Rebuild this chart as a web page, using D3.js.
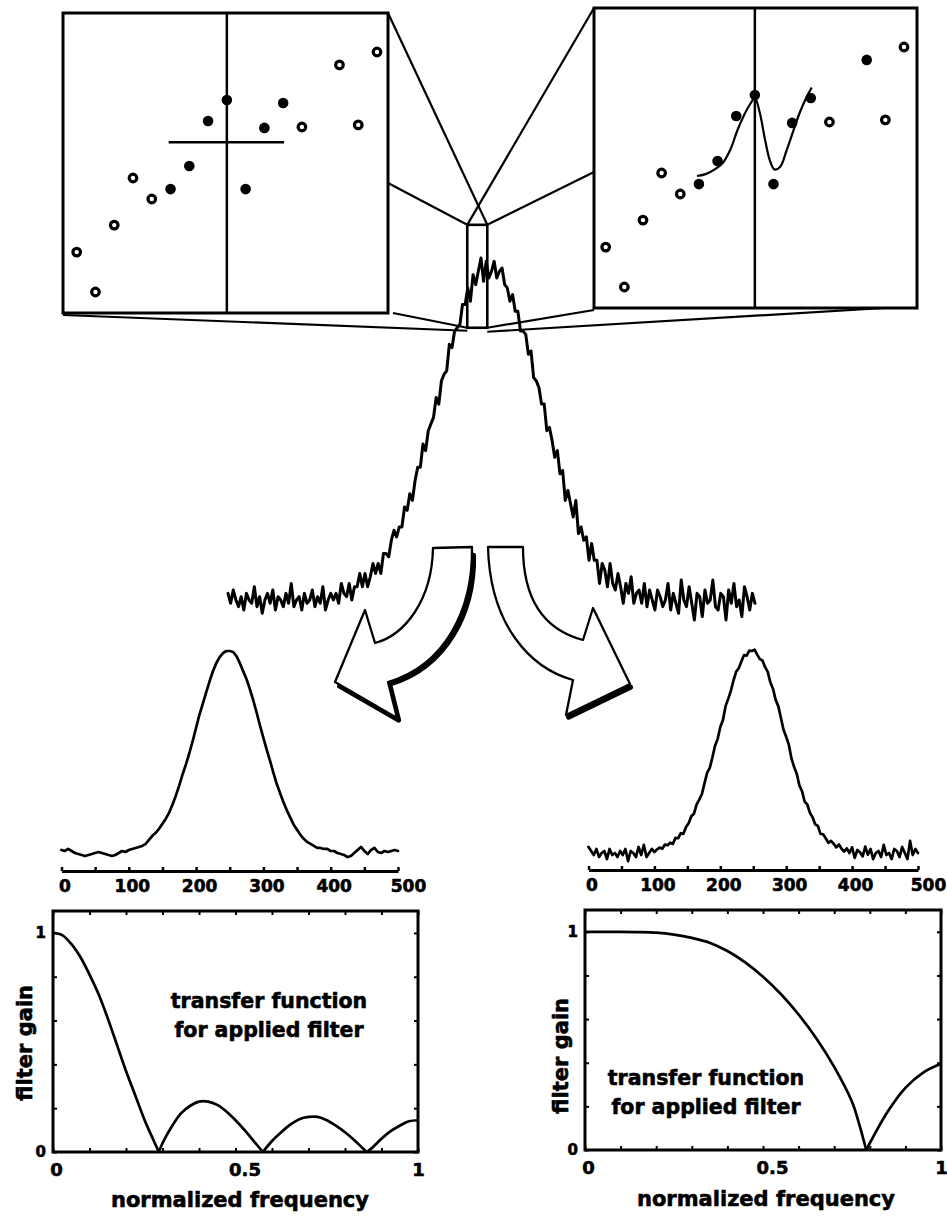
<!DOCTYPE html>
<html>
<head>
<meta charset="utf-8">
<script src="https://cdn.jsdelivr.net/npm/d3@7"></script>
<style>
  html, body { margin: 0; padding: 0; background: #fff; }
  svg { display: block; }
  text { font-family: "DejaVu Sans", "Liberation Sans", Arial, sans-serif; font-weight: 700; fill: #000; stroke: #000; stroke-width: 0.6px; stroke-linejoin: round; }
</style>
</head>
<body>
<svg id="fig" width="947" height="1220"></svg>
<script>
// ---------------- data ----------------

// 17 consecutive samples around the peak (index 13 falls outside the view)
const windowValues = [20.3, 7, 29.3, 45, 38, 41.3, 49, 64, 71, 41.3, 61.7, 70, 62, null, 82.7, 62.7, 87];
const windowIdx = [5, 6, 7, 8, 9, 10, 11];          // samples used by the 7-point filter
const centreIdx = 8;                                 // point being replaced
const filledLeft = [5, 6, 7, 8, 9, 10, 11];
const filledRight = [5, 6, 7, 8, 9, 10, 11, 14];

// local polynomial fit through the 7-point window
const fitIdx = [4.9, 5.4, 5.95, 6.3, 6.7, 7.05, 7.4, 7.75, 8.0, 8.25, 8.55, 8.8, 9.05, 9.35, 9.7, 10.05, 10.4, 10.75, 11.05];
const fitVal = [44, 44.7, 46.6, 48.5, 53, 59, 64, 68, 70, 65.5, 56, 49.3, 46.2, 47, 52.5, 58.8, 65, 70, 73.5];

// raw noisy signal, one value every 2.5 sample units (0..500)
const rawStep = 2.5;
const rawSignal = [
  2,-1,3,0,-2,1,-3,2,0,-1,
  4,-2,1,-4,0,2,-1,3,-3,1,
  0,-2,2,-1,5,-2,0,1,-3,2,
  -1,0,3,-2,1,-1,4,-3,0,2,
  0,2,-1,5,2,1,5,0,4,4,
  8,4,8,4,7,11,8,11,8,14,
  14,13,18,21,19,22,22,28,27,32,
  30,36,40,40,47,45,51,53,55,61,
  59,66,68,69,77,76,81,82,83,89,
  89,94,90,98,95,99,103,96,102,97,
  99,102,97,99,100,95,94,90,92,87,
  87,81,81,80,74,75,67,66,64,59,
  59,51,52,48,43,45,38,39,30,33,
  29,25,30,20,22,18,19,12,17,12,
  12,5,11,9,4,11,5,3,8,4,
  -1,5,2,7,-1,2,3,-1,5,-2,
  3,0,-3,3,1,-2,0,5,-3,2,
  -1,-4,6,0,-2,4,-1,-6,2,1,
  -5,3,-1,0,6,-2,-3,2,1,-6,
  3,-1,5,-2,0,-5,4,1,-3,2,
  -1
];

// moving-average output, every 5 units
const maStep = 5;
const maSignal = [
  1.5,1,2,1,0,-0.5,-1,-1.5,-1,-0.5,
  0,0.5,0,-0.5,-1,-1.5,-1,0,1,0.5,
  1.5,2,2.5,3,3.5,4.5,6.5,8.5,10,12,
  14.5,17,20,24,28.5,33.5,39,44,49.5,55.5,
  62,68.5,74,79.5,85,90,94,97,99,100,
  100,99.5,97.5,94,90,86,81,75.5,69.5,63,
  57,51,45.5,39.5,34,29.5,25,21,17.5,14,
  11.5,9,7,5.5,4.5,3.5,2.5,2.5,2,2,
  1,1,0,-0.5,-1,-2,-1.5,0,1.5,3,
  1,-0.5,1.5,2.5,0.5,0,1,0.5,1,1.5,
  1
];

// polynomial-smoothing output, every 4 units
const sgStep = 4;
const sgSignal = [
  3,1,-1,2,-2,0,1,-3,2,-1,
  0,-2,1,-1,2,-4,1,0,-2,3,
  -1,4,-2,0,2,0.5,1.8,2.7,2.1,4.2,
  3.8,5.1,4.5,7.5,7.3,9.8,9.5,12.9,14.7,18.2,
  19.4,24,26.4,29.1,34.5,39.7,42.1,47.3,53.1,56.5,
  62.4,65.8,72.7,76.3,80.3,85.4,89.7,91.5,94.8,98,
  97.7,100.2,100,100.7,98.2,96,95.3,92,89.7,84.4,
  81.3,75.8,72.7,66.8,60.9,57.5,53.6,46.8,42.6,39.2,
  33.5,30.6,25.4,24,19.9,17.7,14.2,13.4,9.5,9.3,
  7.3,5,6,4.6,2.8,4.2,2.1,0.7,2.3,0,
  2.8,-2.4,1.5,0.4,-1.7,3.2,-0.9,2,-3,0,
  1,-2,4,-1,0,-3,2,1,-2,3,
  0,-3,6,-1,2,0
];

const signalTicks = [0, 50, 100, 150, 200, 250, 300, 350, 400, 450, 500];
const signalLabels = [0, 100, 200, 300, 400, 500];

// magnified stretch of the raw signal (sample units / signal units)
const zoomSamples = [227, 246];
const zoomLevels = [82, 113];

// filter transfer functions
const freqMA = [0,0.025,0.05,0.075,0.1,0.125,0.15,0.175,0.2,0.225,0.25,0.275,0.29,0.3,0.325,0.35,0.375,0.4,0.425,0.45,0.475,0.5,0.525,0.55,0.575,0.6,0.625,0.65,0.675,0.7,0.725,0.75,0.775,0.8,0.825,0.85,0.86,0.875,0.9,0.925,0.95,0.975,1];
const gainMA = [1,0.99,0.95,0.89,0.81,0.72,0.61,0.49,0.37,0.26,0.15,0.055,0,0.04,0.115,0.175,0.21,0.23,0.23,0.215,0.185,0.145,0.1,0.05,0,0.05,0.09,0.125,0.15,0.16,0.16,0.145,0.12,0.09,0.055,0.015,0,0.02,0.06,0.095,0.12,0.14,0.145];
const freqSG = [0,0.05,0.1,0.15,0.2,0.25,0.3,0.35,0.4,0.45,0.5,0.55,0.6,0.65,0.7,0.75,0.77,0.79,0.85,0.9,0.95,1];
const gainSG = [1,1,1,0.999,0.996,0.987,0.972,0.95,0.912,0.86,0.794,0.715,0.621,0.511,0.381,0.221,0.12,0,0.175,0.285,0.355,0.395];

const freqTicks = [0, 0.5, 1];
const gainTicks = [0, 1];

// ---------------- drawing ----------------
const ink = "#000";
const svg = d3.select("#fig");

// raw signal scales (also used by the magnifier lines)
const rawX = d3.scaleLinear().domain([0, 500]).range([228, 755]);
const rawY = d3.scaleLinear().domain([0, 100]).range([600, 268]);

// --- insets ---
function drawInset(box, idxRange, filled) {
  const g = svg.append("g");
  const x = d3.scaleLinear().domain([0, 16]).range(idxRange);
  const y = d3.scaleLinear().domain([0, 100]).range([box.y1, box.y0]);
  g.append("rect")
    .attr("x", box.x0).attr("y", box.y0)
    .attr("width", box.x1 - box.x0).attr("height", box.y1 - box.y0)
    .attr("fill", "#fff").attr("stroke", ink).attr("stroke-width", 3);
  g.append("line")
    .attr("x1", x(centreIdx)).attr("x2", x(centreIdx))
    .attr("y1", box.y0).attr("y2", box.y1)
    .attr("stroke", ink).attr("stroke-width", 2.5);
  const pts = windowValues.map((v, i) => ({ i, v })).filter(d => d.v !== null);
  g.selectAll("circle").data(pts).join("circle")
    .attr("cx", d => x(d.i)).attr("cy", d => y(d.v))
    .attr("r", d => filled.includes(d.i) ? 5.3 : 3.8)
    .attr("fill", d => filled.includes(d.i) ? ink : "#fff")
    .attr("stroke", ink)
    .attr("stroke-width", d => filled.includes(d.i) ? 0 : 3.2);
  return { g, x, y };
}

const boxL = { x0: 63, x1: 388, y0: 13, y1: 313 };
const boxR = { x0: 594, x1: 917, y0: 8, y1: 308 };

// magnifier lines from the highlighted stretch to the insets
const zx0 = rawX(zoomSamples[0]), zx1 = rawX(zoomSamples[1]);
const zy0 = rawY(zoomLevels[1]), zy1 = rawY(zoomLevels[0]);
const connectors = [
  [[boxL.x1, boxL.y0], [zx1, zy0]],
  [[boxL.x1, 183], [zx0, zy0]],
  [[boxR.x0, boxR.y0], [zx0, zy0]],
  [[boxR.x0, 172], [zx1, zy0]],
  [[boxL.x0, boxL.y1 + 2], [zx0, zy1 + 3]],
  [[boxL.x1 + 5, boxL.y1], [zx0, zy1]],
  [[boxR.x0, boxR.y1 + 2], [zx1, zy1]],
  [[boxR.x1, boxR.y1 - 2], [zx1, zy1 + 4]]
];
svg.append("g").selectAll("line").data(connectors).join("line")
  .attr("x1", d => d[0][0]).attr("y1", d => d[0][1])
  .attr("x2", d => d[1][0]).attr("y2", d => d[1][1])
  .attr("stroke", ink).attr("stroke-width", 2.2);

const insetL = drawInset(boxL, [76.7, 377], filledLeft);
const insetR = drawInset(boxR, [605.7, 904], filledRight);

// moving average: horizontal line at the window mean
const winMean = d3.mean(windowIdx, i => windowValues[i]);
insetL.g.append("line")
  .attr("x1", insetL.x(windowIdx[0] - 0.1)).attr("x2", insetL.x(windowIdx[windowIdx.length - 1] + 0.05))
  .attr("y1", insetL.y(winMean)).attr("y2", insetL.y(winMean))
  .attr("stroke", ink).attr("stroke-width", 2.4);

// polynomial fit curve
insetR.g.append("path")
  .datum(fitVal)
  .attr("d", d3.line().x((d, k) => insetR.x(fitIdx[k])).y(d => insetR.y(d)).curve(d3.curveCatmullRom.alpha(0.5)))
  .attr("fill", "none").attr("stroke", ink).attr("stroke-width", 2.2);

// highlighted stretch of the raw signal
svg.append("rect")
  .attr("x", zx0).attr("y", zy0).attr("width", zx1 - zx0).attr("height", zy1 - zy0)
  .attr("fill", "none").attr("stroke", ink).attr("stroke-width", 2.6);

// --- raw noisy signal ---
svg.append("path")
  .datum(rawSignal)
  .attr("d", d3.line().x((d, i) => rawX(i * rawStep)).y(d => rawY(d)))
  .attr("fill", "none").attr("stroke", ink).attr("stroke-width", 3)
  .attr("stroke-linejoin", "round").attr("stroke-linecap", "round");

// --- curved block arrows (outline + heavy shadow edges) ---
function arrowLeft() {
  const p = d3.path();
  p.moveTo(433, 548); p.lineTo(472, 547);
  p.bezierCurveTo(473, 610, 445, 665, 388, 682);
  p.lineTo(397, 718); p.lineTo(335, 682); p.lineTo(365, 610); p.lineTo(375, 643);
  p.bezierCurveTo(405, 635, 432, 600, 433, 548);
  p.closePath();
  return p.toString();
}
function arrowLeftShadow() {
  const p = d3.path();
  p.moveTo(472, 553);
  p.bezierCurveTo(473, 610, 445, 665, 388, 682);
  p.lineTo(397, 718); p.lineTo(338, 684);
  return p.toString();
}
function arrowRight() {
  const p = d3.path();
  p.moveTo(488, 547); p.lineTo(523, 547);
  p.bezierCurveTo(523, 600, 545, 630, 583, 640);
  p.lineTo(593, 608); p.lineTo(630, 684); p.lineTo(566, 715); p.lineTo(573, 680);
  p.bezierCurveTo(530, 668, 490, 625, 488, 547);
  p.closePath();
  return p.toString();
}
function arrowRightShadow() {
  const p = d3.path();
  p.moveTo(629, 685); p.lineTo(567, 715);
  return p.toString();
}
[[arrowLeft(), arrowLeftShadow()], [arrowRight(), arrowRightShadow()]].forEach(([body, shade]) => {
  svg.append("path").attr("d", shade).attr("transform", "translate(1.6,2.2)")
    .attr("fill", "none").attr("stroke", ink).attr("stroke-width", 5)
    .attr("stroke-linejoin", "round").attr("stroke-linecap", "round");
  svg.append("path").attr("d", body)
    .attr("fill", "#fff").attr("stroke", ink).attr("stroke-width", 2.3).attr("stroke-linejoin", "round");
});

// --- filtered signals with their sample axes ---
function drawFiltered(series, step, xRange, axisY) {
  const x = d3.scaleLinear().domain([0, 500]).range(xRange);
  const y = d3.scaleLinear().domain([0, 100]).range([853, 651]);
  svg.append("path")
    .datum(series)
    .attr("d", d3.line().x((d, i) => x(i * step)).y(d => y(d)))
    .attr("fill", "none").attr("stroke", ink).attr("stroke-width", 2.7)
    .attr("stroke-linejoin", "round").attr("stroke-linecap", "round");
  const ax = svg.append("g").attr("transform", `translate(0,${axisY})`)
    .call(d3.axisBottom(x).tickValues(signalTicks).tickSize(-4).tickSizeOuter(0).tickPadding(9)
      .tickFormat(d => signalLabels.includes(d) ? d : ""));
  ax.select(".domain").attr("stroke", ink).attr("stroke-width", 3);
  ax.selectAll(".tick line").attr("stroke", ink).attr("stroke-width", 2.5);
  ax.selectAll(".tick text").attr("font-size", 17).attr("font-family", null).attr("fill", ink)
    .attr("dx", d => d === 500 ? 10 : 3);
}
drawFiltered(maSignal, maStep, [61.5, 398], 871);
drawFiltered(sgSignal, sgStep, [588.5, 918], 870);

// --- transfer-function panels ---
function drawTransfer(freq, gain, box, label) {
  const x = d3.scaleLinear().domain([0, 1]).range([box.x0, box.x1]);
  const y = d3.scaleLinear().domain([0, 1.1]).range([box.y1, box.y0]);
  const g = svg.append("g");

  // small inward ticks on all four edges
  const minorX = d3.range(0, 1.0001, 0.1);
  const minorY = d3.range(0, 1.0001, 0.2);
  const edges = [
    [d3.axisBottom(x).tickValues(minorX), `translate(0,${box.y1})`],
    [d3.axisTop(x).tickValues(minorX), `translate(0,${box.y0})`],
    [d3.axisLeft(y).tickValues(minorY), `translate(${box.x0},0)`],
    [d3.axisRight(y).tickValues(minorY), `translate(${box.x1},0)`]
  ];
  edges.forEach(([axis, tr]) => {
    const a = g.append("g").attr("transform", tr)
      .call(axis.tickSize(-4).tickSizeOuter(0).tickFormat(""));
    a.select(".domain").remove();
    a.selectAll(".tick line").attr("stroke", ink).attr("stroke-width", 2);
  });

  g.append("rect")
    .attr("x", box.x0).attr("y", box.y0)
    .attr("width", box.x1 - box.x0).attr("height", box.y1 - box.y0)
    .attr("fill", "none").attr("stroke", ink).attr("stroke-width", 3);

  // tick labels
  const xl = g.append("g").attr("transform", `translate(0,${box.y1})`)
    .call(d3.axisBottom(x).tickValues(freqTicks).tickSize(0).tickPadding(11).tickFormat(d3.format("")));
  xl.select(".domain").remove();
  xl.selectAll(".tick text").attr("font-size", 18).attr("font-family", null).attr("fill", ink)
    .attr("dx", d => d === 0.5 ? 9 : (d === 0 ? 3 : 0));
  const yl = g.append("g").attr("transform", `translate(${box.x0},0)`)
    .call(d3.axisLeft(y).tickValues(gainTicks).tickSize(0).tickPadding(7).tickFormat(d3.format("")));
  yl.select(".domain").remove();
  yl.selectAll(".tick text").attr("font-size", 15).attr("font-family", null).attr("fill", ink);

  // gain curve, split into lobes at its zeros
  const pts = freq.map((f, i) => [f, gain[i]]);
  const lobes = [];
  let cur = [];
  pts.forEach((p, i) => {
    cur.push(p);
    if (p[1] === 0 && i > 0 && i < pts.length - 1) { lobes.push(cur); cur = [p]; }
  });
  lobes.push(cur);
  const line = d3.line().x(d => x(d[0])).y(d => y(d[1])).curve(d3.curveCatmullRom.alpha(0.5));
  g.selectAll("path.lobe").data(lobes).join("path")
    .attr("class", "lobe").attr("d", line)
    .attr("fill", "none").attr("stroke", ink).attr("stroke-width", 2.7).attr("stroke-linejoin", "round");

  // axis titles
  g.append("text")
    .attr("x", label.xTitle[0]).attr("y", label.xTitle[1])
    .attr("text-anchor", "middle").attr("font-size", 21)
    .text("normalized frequency");
  g.append("text")
    .attr("transform", `translate(${label.yTitle[0]},${label.yTitle[1]}) rotate(-90)`)
    .attr("text-anchor", "middle").attr("font-size", 21)
    .text("filter gain");
  const note = g.append("text").attr("text-anchor", "middle").attr("font-size", 20.5);
  note.append("tspan").attr("x", label.note[0]).attr("y", label.note[1]).text("transfer function");
  note.append("tspan").attr("x", label.note[0]).attr("y", label.note[1] + 29).text("for applied filter");
}

drawTransfer(freqMA, gainMA, { x0: 53, x1: 418, y0: 911, y1: 1152 },
  { xTitle: [240, 1207], yTitle: [31.5, 1043], note: [269, 1008] });
drawTransfer(freqSG, gainSG, { x0: 585, x1: 941, y0: 910, y1: 1150 },
  { xTitle: [766, 1206], yTitle: [568, 1056], note: [706, 1085] });
</script>
</body>
</html>
